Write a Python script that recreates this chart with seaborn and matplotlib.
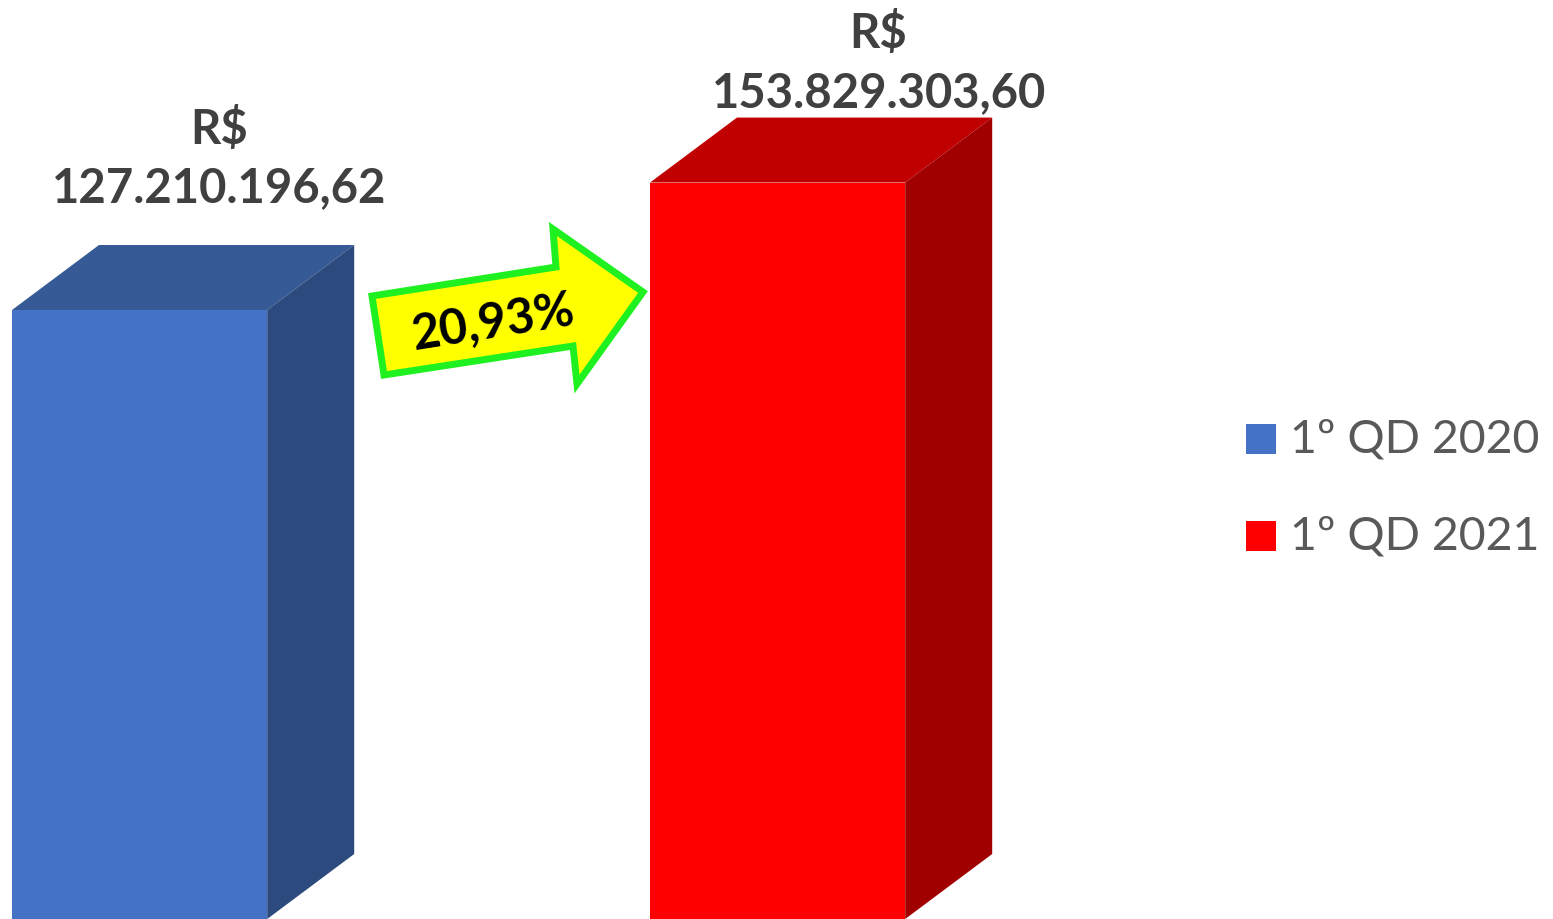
import matplotlib
matplotlib.use("Agg")
import matplotlib.pyplot as plt
import seaborn as sns
import pandas as pd
from matplotlib.patches import Polygon, Rectangle

categories = ["1º QD 2020", "1º QD 2021"]
values = [127.21019662, 153.82930360]  # milhões de R$
value_labels = ["R$\n127.210.196,62", "R$\n153.829.303,60"]
growth_label = "20,93%"
front_colors = ["#4472C4", "#FF0000"]
top_colors = ["#355A96", "#C00000"]
side_colors = ["#2D4A7E", "#A00000"]
label_offsets = [21.0, 14.4]
label_dx_px = [80, 101]

df = pd.DataFrame({"cat": categories, "val": values})

sns.set_theme(style="white")
plt.rcParams['font.family'] = ['Lato', 'DejaVu Sans']

W, H = 1553, 920
fig = plt.figure(figsize=(W / 100, H / 100), dpi=100)
ax = fig.add_axes([0, 0, 1, 1])

sns.barplot(data=df, x="cat", y="val", hue="cat", palette=front_colors,
            width=0.4, legend=False, ax=ax, saturation=1, zorder=3,
            linewidth=0)

unit_px = 638.0
xl = -0.2 - 12 / unit_px
ax.set_xlim(xl, xl + W / unit_px)
px_per_val = 609.0 / values[0]
ax.set_ylim(0, H / px_per_val)

dx = 87 / unit_px
dy = 65 / px_per_val

for i, p in enumerate(ax.patches[:2]):
    x0 = p.get_x()
    w = p.get_width()
    h = p.get_height()
    x1 = x0 + w
    top = Polygon([(x0, h), (x1, h), (x1 + dx, h + dy), (x0 + dx, h + dy)],
                  closed=True, facecolor=top_colors[i], edgecolor="none", zorder=2)
    side = Polygon([(x1, 0), (x1, h), (x1 + dx, h + dy), (x1 + dx, dy)],
                   closed=True, facecolor=side_colors[i], edgecolor="none", zorder=2)
    ax.add_patch(top)
    ax.add_patch(side)
    cx = x0 + w / 2 + label_dx_px[i] / unit_px
    ax.text(cx, h + label_offsets[i], value_labels[i], ha="center", va="bottom",
            fontsize=34, fontweight="bold", color="#404040", linespacing=1.4,
            zorder=5)

ax.set_axis_off()

# growth arrow (annotation in figure pixel coords)
arrow_px = [(372, 297), (556, 268), (553, 230), (643, 293), (577, 385),
            (573, 347), (384, 376)]
arrow = Polygon([(x / W, 1 - y / H) for x, y in arrow_px], closed=True,
                transform=fig.transFigure, facecolor="#FFFF00",
                edgecolor="#1FF01F", linewidth=5, zorder=6, joinstyle="miter")
fig.patches.append(arrow)
fig.text(493 / W, 1 - 323 / H, growth_label, ha="center", va="center",
         rotation=9, fontsize=35, fontweight="bold", color="black", zorder=7)

# legend
for i, cat in enumerate(categories):
    yc = 440 + i * 97
    fig.patches.append(Rectangle((1246 / W, 1 - (yc + 15) / H), 30 / W, 30 / H,
                                 transform=fig.transFigure,
                                 facecolor=front_colors[i], edgecolor="none"))
    fig.text(1290 / W, 1 - yc / H, cat, ha="left", va="center",
             fontsize=33.5, color="#595959")

fig.savefig("out.png", dpi=100)
